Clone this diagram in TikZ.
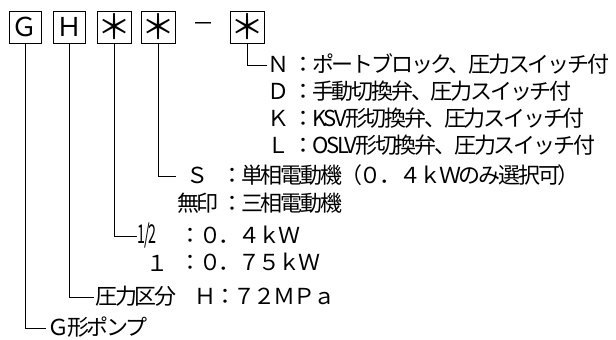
\documentclass[tikz,border=0pt]{standalone}
\usepackage{fontspec}
\setmainfont{Noto Sans CJK JP}[LetterSpace=-10]
\usepackage{tikz}
\newcommand{\jpsize}{\fontsize{22}{26}\selectfont}
\newcommand{\boxsize}{\fontsize{26}{26}\selectfont}
\tikzset{
  codebox/.style={draw, line width=1pt, minimum width=32pt, minimum height=32pt, inner sep=0pt, font=\boxsize},
  rowtext/.style={anchor=west, inner sep=1pt, text height=18pt, text depth=3pt, font=\jpsize},
  keytext/.style={anchor=east, inner sep=1pt, text height=18pt, text depth=3pt, font=\jpsize},
  leader/.style={line width=1pt}
}

\begin{document}
\begin{tikzpicture}[x=1pt,y=-1pt]
\useasboundingbox (0,0) rectangle (616,340);
% code boxes
\node[codebox] (bG) at (25,27) {Ｇ};
\node[codebox] (bH) at (69,27) {Ｈ};
\node[codebox, font=\fontsize{34}{34}\selectfont] (bkw) at (114,27) {＊};
\node[codebox, font=\fontsize{34}{34}\selectfont] (bmot) at (158.5,27) {＊};
\node[font=\jpsize] (dash) at (203.5,27) {－};
\node[codebox, font=\fontsize{34}{34}\selectfont] (bopt) at (247.5,27) {＊};
% option
\node[keytext] (kN) at (291,65) {Ｎ};
\node[rowtext] (tN) at (291,65) {：ポートブロック、圧力スイッチ付};
\node[keytext] (kD) at (291,92) {Ｄ};
\node[rowtext] (tD) at (291,92) {：手動切換弁、圧力スイッチ付};
\node[keytext] (kK) at (291,119) {Ｋ};
\node[rowtext] (tK) at (291,119) {：KSV形切換弁、圧力スイッチ付};
\node[keytext] (kL) at (291,146) {Ｌ};
\node[rowtext] (tL) at (291,146) {：OSLV形切換弁、圧力スイッチ付};
% motor
\node[keytext, minimum width=44pt] (kS) at (220,176) {Ｓ};
\node[rowtext] (tS) at (220,176) {：単相電動機（０．４ｋＷのみ選択可）};
\node[keytext] (kM) at (220,204) {無印};
\node[rowtext] (tM) at (220,204) {：三相電動機};
% output
\node[rowtext, font=\fontsize{26}{26}\selectfont, xscale=0.55, transform shape] (k12) at (137,236) {1/2};
\node[rowtext] (t12) at (178,236) {：０．４ｋＷ};
\node[font=\jpsize] (k1) at (157,263) {１};
\node[rowtext] (t1) at (178,263) {：０．７５ｋＷ};
% pressure, pump
\node[rowtext] (tH) at (94,297) {圧力区分　Ｈ：７２ＭＰａ};
\node[rowtext] (tG) at (46,328) {Ｇ形ポンプ};
% leaders
\draw[leader] (bopt.south) |- (kN.west);
\draw[leader] (bmot.south) |- (kS.west);
\draw[leader] (bkw.south) |- (k12.west);
\draw[leader] (bH.south) |- (tH.west);
\draw[leader] (bG.south) |- (tG.west);
\end{tikzpicture}
\end{document}
